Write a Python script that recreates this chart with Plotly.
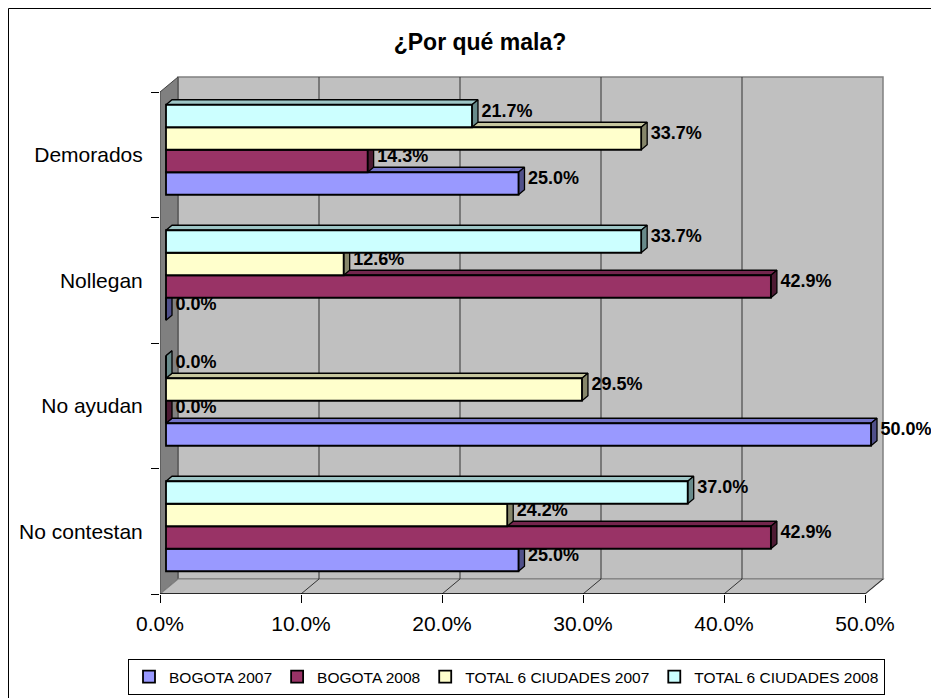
import plotly.graph_objects as go

# ---------------- data ----------------
categories = ["No contestan", "No ayudan", "Nollegan", "Demorados"]
series_names = ["BOGOTA 2007", "BOGOTA 2008", "TOTAL 6 CIUDADES 2007", "TOTAL 6 CIUDADES 2008"]
bogota_2007 = [25.0, 50.0, 0.0, 25.0]
bogota_2008 = [42.9, 0.0, 42.9, 14.3]
total_2007 = [24.2, 29.5, 12.6, 33.7]
total_2008 = [37.0, 0.0, 33.7, 21.7]
x_ticks = [0, 10, 20, 30, 40, 50]
x_tick_labels = ["0.0%", "10.0%", "20.0%", "30.0%", "40.0%", "50.0%"]
title_text = "¿Por qué mala?"

series_values = [bogota_2007, bogota_2008, total_2007, total_2008]

# ---------------- styling ----------------
FONT = "Liberation Sans, Arial, sans-serif"
front_colors = ["#9999FF", "#993366", "#FFFFCC", "#CCFFFF"]
top_colors = ["#7373C6", "#73264D", "#C6C69E", "#9EC6C6"]
side_colors = ["#50508A", "#4D1A33", "#86866A", "#688A8A"]

# the page body has an 8px margin: the figure is drawn 8px in from the window edge
OFF = 8
W, H = 939 - OFF, 698 - OFF
ML, MT = 160 - OFF, 67 - OFF
KX = 14.1      # px per percent
KY = 125.5     # px per category unit
plot_w = 726
plot_bottom = 594 - OFF
MB = H - plot_bottom
plot_h = H - MT - MB
MR = W - ML - plot_w
x_max = plot_w / KX
y_min = -0.5
y_max = y_min + plot_h / KY

DX = 18 / KX          # depth of the 3D box (x units)
DY = 15 / KY          # depth of the 3D box (y units)
dx, dy = DX / 3, DY / 3   # bar depth / offset
BAR_H = 22.5 / KY
x_end = x_ticks[-1]

fig = go.Figure()

# ---- 3D faces of the bars (top + side), painter order bottom->top ----
for k, (name, vals) in enumerate(zip(series_names, series_values)):
    tx, ty, sx, sy = [], [], [], []
    for i, v in enumerate(vals):
        yc = i + (k - 1.5) * BAR_H + dy
        yt, yb = yc + BAR_H / 2, yc - BAR_H / 2
        tx += [dx, dx + v, 2 * dx + v, 2 * dx, dx, None]
        ty += [yt, yt, yt + dy, yt + dy, yt, None]
        sx += [dx + v, dx + v, 2 * dx + v, 2 * dx + v, dx + v, None]
        sy += [yb, yt, yt + dy, yb + dy, yb, None]
    fig.add_trace(go.Scatter(x=tx, y=ty, mode="lines", fill="toself",
                             fillcolor=top_colors[k], line=dict(color="black", width=1.3),
                             showlegend=False, hoverinfo="skip"))
    fig.add_trace(go.Scatter(x=sx, y=sy, mode="lines", fill="toself",
                             fillcolor=side_colors[k], line=dict(color="black", width=1.3),
                             showlegend=False, hoverinfo="skip"))

# ---- front faces (bars) on overlay axes ----
for k, (name, vals) in enumerate(zip(series_names, series_values)):
    ys = [i + (k - 1.5) * BAR_H + dy for i in range(len(categories))]
    fig.add_trace(go.Bar(x=vals, y=ys, base=dx, width=BAR_H, orientation="h",
                         name=name, marker=dict(color=front_colors[k],
                                                line=dict(color="black", width=1.8)),
                         xaxis="x2", yaxis="y2"))

# ---- data labels ----
for k, vals in enumerate(series_values):
    ys = [i + (k - 1.5) * BAR_H + dy + 4 / KY for i in range(len(categories))]
    xs = [v + 2 * dx + 0.25 for v in vals]
    fig.add_trace(go.Scatter(x=xs, y=ys, mode="text", text=[f"{v:.1f}%" for v in vals],
                             textposition="middle right", cliponaxis=False,
                             textfont=dict(family=FONT, size=18, color="black"),
                             texttemplate="<b>%{text}</b>",
                             showlegend=False, hoverinfo="skip",
                             xaxis="x2", yaxis="y2"))

# ---- walls, floor, gridlines ----
shapes = []
shapes.append(dict(type="rect", xref="x", yref="y", x0=DX, x1=x_end + DX,
                   y0=y_min + DY, y1=3.5 + DY, fillcolor="#C0C0C0",
                   line=dict(color="#808080", width=1.5), layer="below"))
shapes.append(dict(type="path", xref="x", yref="y",
                   path=f"M 0 {y_min} L {DX} {y_min + DY} L {DX} {3.5 + DY} L 0 3.5 Z",
                   fillcolor="#808080", line=dict(color="#404040", width=1), layer="below"))
shapes.append(dict(type="path", xref="x", yref="y",
                   path=f"M 0 {y_min} L {x_end} {y_min} L {x_end + DX} {y_min + DY} L {DX} {y_min + DY} Z",
                   fillcolor="#C0C0C0", line=dict(color="#808080", width=1.2), layer="below"))
for g in x_ticks[1:-1]:
    shapes.append(dict(type="line", xref="x", yref="y", x0=g + DX, x1=g + DX,
                       y0=y_min + DY, y1=3.5 + DY, line=dict(color="#333333", width=1),
                       layer="below"))
for g in x_ticks[1:]:
    shapes.append(dict(type="line", xref="x", yref="y", x0=g, x1=g + DX,
                       y0=y_min, y1=y_min + DY, line=dict(color="#333333", width=1),
                       layer="below"))
shapes.append(dict(type="line", xref="x", yref="y", x0=0, x1=x_end, y0=y_min, y1=y_min,
                   line=dict(color="black", width=1.5), layer="below"))
# outer chart border (runs off the right and bottom edges)
shapes.append(dict(type="rect", xref="paper", yref="paper",
                   x0=(0.5 - ML) / plot_w, x1=1.5,
                   y0=-0.5, y1=(plot_bottom - 0.5) / plot_h,
                   line=dict(color="black", width=1), fillcolor="rgba(0,0,0,0)"))

legend_left = 128 - OFF
legend_cy = 677 - OFF

fig.update_layout(
    width=W, height=H,
    margin=dict(l=ML, r=MR, t=MT, b=MB, autoexpand=False),
    paper_bgcolor="white", plot_bgcolor="rgba(0,0,0,0)",
    font=dict(family=FONT, color="black"),
    barmode="overlay",
    shapes=shapes,
    title=dict(text=f"<b>{title_text}</b>", font=dict(family=FONT, size=23, color="black"),
               x=(480 - OFF) / W, xref="container", xanchor="center",
               y=1 - (42 - OFF) / H, yref="container", yanchor="middle"),
    xaxis=dict(range=[0, x_max], tickvals=x_ticks, ticktext=x_tick_labels,
               ticks="outside", ticklen=8, tickcolor="black", tickwidth=1,
               showgrid=False, zeroline=False, showline=False,
               tickfont=dict(family=FONT, size=21, color="black"), ticklabelstandoff=3),
    yaxis=dict(range=[y_min, y_max], tickvals=list(range(len(categories))), ticktext=categories,
               ticks="outside", ticklen=8, tickcolor="rgba(0,0,0,0)",
               minor=dict(tickmode="array", tickvals=[-0.5, 0.5, 1.5, 2.5, 3.5],
                          ticks="outside", ticklen=8, tickcolor="black", showgrid=False),
               showgrid=False, zeroline=False, showline=False,
               tickfont=dict(family=FONT, size=21, color="black"), ticklabelstandoff=4),
    xaxis2=dict(range=[0, x_max], overlaying="x", visible=False),
    yaxis2=dict(range=[y_min, y_max], overlaying="y", visible=False),
    legend=dict(orientation="h", xref="paper", yref="paper",
                x=(legend_left - ML) / plot_w, xanchor="left",
                y=(plot_bottom - legend_cy) / plot_h, yanchor="middle",
                bordercolor="black", borderwidth=1, bgcolor="white",
                font=dict(family=FONT, size=15.5, color="black"),
                itemwidth=30, tracegroupgap=0, traceorder="normal"),
)

fig.write_html("out.html")
